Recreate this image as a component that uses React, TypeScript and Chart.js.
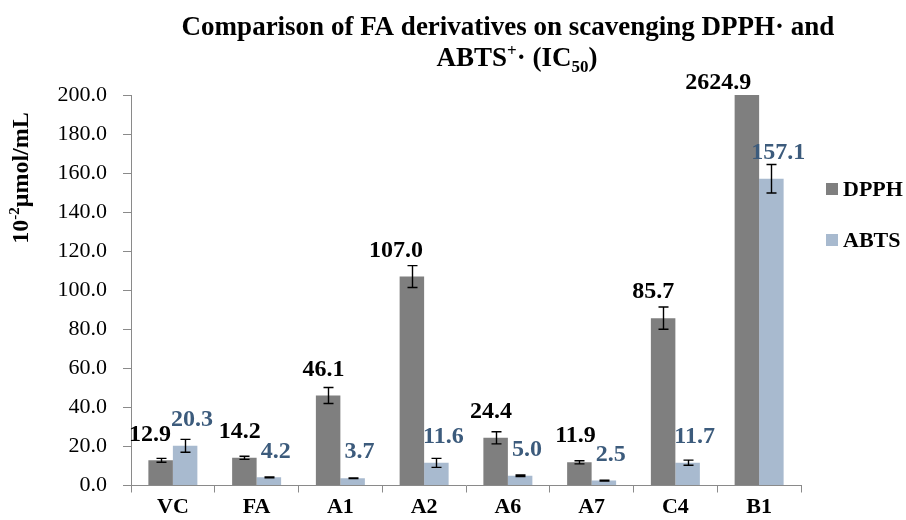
import { useEffect, useRef } from "react";
import { Chart, registerables } from "chart.js";

Chart.register(...registerables);

// IC50 values (10^-2 μmol/mL) with standard deviations
const categories = ["VC", "FA", "A1", "A2", "A6", "A7", "C4", "B1"];
const dpphValues = [12.9, 14.2, 46.1, 107.0, 24.4, 11.9, 85.7, 2624.9];
const dpphErrors = [1.0, 0.8, 4.1, 5.6, 3.1, 0.8, 5.7, 13.2];
const abtsValues = [20.3, 4.2, 3.7, 11.6, 5.0, 2.5, 11.7, 157.1];
const abtsErrors = [3.3, 0.2, 0.2, 2.3, 0.4, 0.2, 1.3, 7.3];

const seriesNames = ["DPPH", "ABTS"];
const barColors = ["#7f7f7f", "#a8bacf"];
const labelColors = ["#000000", "#3c5b7c"];

const yMin = 0;
const yMax = 200;
const yStep = 20;

const SERIF = '"Liberation Serif", "Times New Roman", serif';
const AXIS_GREY = "#8a8a8a";

type Piece = { text: string; size: number; dy: number };

function drawPieces(ctx: CanvasRenderingContext2D, pieces: Piece[], cx: number, baseline: number, weight: string) {
  const widths = pieces.map((p) => {
    ctx.font = `${weight} ${p.size}px ${SERIF}`;
    return ctx.measureText(p.text).width;
  });
  const total = widths.reduce((a, b) => a + b, 0);
  let x = cx - total / 2;
  ctx.textAlign = "left";
  ctx.textBaseline = "alphabetic";
  pieces.forEach((p, i) => {
    ctx.font = `${weight} ${p.size}px ${SERIF}`;
    ctx.fillText(p.text, x, baseline + p.dy);
    x += widths[i];
  });
}

// Title, y-axis title and legend
const decorations = {
  id: "decorations",
  afterDraw(chart: any) {
    const ctx: CanvasRenderingContext2D = chart.ctx;
    ctx.save();
    ctx.fillStyle = "#000";

    drawPieces(ctx, [{ text: "Comparison of FA derivatives on scavenging DPPH\u00b7 and", size: 27, dy: 0 }], 508, 35, "bold");
    drawPieces(
      ctx,
      [
        { text: "ABTS", size: 27, dy: 0 },
        { text: "+", size: 17, dy: -10 },
        { text: "\u00b7 (IC", size: 27, dy: 0 },
        { text: "50", size: 17, dy: 6 },
        { text: ")", size: 27, dy: 0 },
      ],
      517,
      66,
      "bold"
    );

    ctx.save();
    ctx.translate(28, 178);
    ctx.rotate(-Math.PI / 2);
    drawPieces(
      ctx,
      [
        { text: "10", size: 24, dy: 0 },
        { text: "-2", size: 15, dy: -9 },
        { text: "\u03bcmol/mL", size: 24, dy: 0 },
      ],
      0,
      0,
      "bold"
    );
    ctx.restore();

    const legendY = [189, 240];
    seriesNames.forEach((name, i) => {
      ctx.fillStyle = barColors[i];
      ctx.fillRect(826, legendY[i] - 6, 12, 12);
      ctx.fillStyle = "#000";
      ctx.font = `bold 22px ${SERIF}`;
      ctx.textAlign = "left";
      ctx.textBaseline = "middle";
      ctx.fillText(name, 843, legendY[i] + 1);
    });
    ctx.restore();
  },
};

// Error bars with caps, clipped to the plot area
const errorBars = {
  id: "errorBars",
  afterDatasetsDraw(chart: any) {
    const { ctx, chartArea } = chart;
    const yScale = chart.scales.y;
    ctx.save();
    ctx.beginPath();
    ctx.rect(chartArea.left, chartArea.top, chartArea.right - chartArea.left, chartArea.bottom - chartArea.top);
    ctx.clip();
    ctx.strokeStyle = "#000";
    ctx.lineWidth = 1.4;
    chart.data.datasets.forEach((ds: any, di: number) => {
      const meta = chart.getDatasetMeta(di);
      meta.data.forEach((bar: any, i: number) => {
        const v = ds.data[i];
        const e = ds.errors[i];
        const top = yScale.getPixelForValue(v + e);
        const bot = yScale.getPixelForValue(v - e);
        const x = Math.round(bar.x) + 0.5;
        ctx.beginPath();
        ctx.moveTo(x, top);
        ctx.lineTo(x, bot);
        ctx.moveTo(x - 5, top);
        ctx.lineTo(x + 5, top);
        ctx.moveTo(x - 5, bot);
        ctx.lineTo(x + 5, bot);
        ctx.stroke();
      });
    });
    ctx.restore();
  },
};

// Value labels above each bar; a bar running past the axis maximum gets its label at the plot top
const valueLabels = {
  id: "valueLabels",
  afterDraw(chart: any) {
    const { ctx, chartArea } = chart;
    const yScale = chart.scales.y;
    const m0 = chart.getDatasetMeta(0);
    const m1 = chart.getDatasetMeta(1);
    ctx.save();
    ctx.font = `bold 24px ${SERIF}`;
    ctx.textBaseline = "middle";
    ctx.textAlign = "center";
    categories.forEach((_, i) => {
      const texts = [dpphValues[i].toFixed(1), abtsValues[i].toFixed(1)];
      const widths = texts.map((t) => ctx.measureText(t).width);
      let x0 = m0.data[i].x;
      const x1 = m1.data[i].x + 7;
      const overlap = x0 + widths[0] / 2 - (x1 - widths[1] / 2);
      if (overlap > 0) x0 -= overlap;
      const vals = [dpphValues[i], abtsValues[i]];
      [x0, x1].forEach((x, k) => {
        const yPix = yScale.getPixelForValue(vals[k]);
        const yText = yPix < chartArea.top ? chartArea.top - 12 : yPix - 26;
        ctx.fillStyle = labelColors[k];
        ctx.fillText(texts[k], x, yText);
      });
    });
    ctx.restore();
  },
};

export default function App() {
  const canvasRef = useRef<HTMLCanvasElement | null>(null);

  useEffect(() => {
    const canvas = canvasRef.current;
    if (!canvas) return;
    const chart = new Chart(canvas, {
      type: "bar",
      data: {
        labels: categories,
        datasets: [
          {
            label: seriesNames[0],
            data: dpphValues,
            errors: dpphErrors,
            backgroundColor: barColors[0],
            categoryPercentage: 0.585,
            barPercentage: 1,
          } as any,
          {
            label: seriesNames[1],
            data: abtsValues,
            errors: abtsErrors,
            backgroundColor: barColors[1],
            categoryPercentage: 0.585,
            barPercentage: 1,
          } as any,
        ],
      },
      options: {
        responsive: false,
        maintainAspectRatio: false,
        animation: false,
        layout: { padding: { top: 95, right: 105, left: 0, bottom: 0 } },
        plugins: {
          legend: { display: false },
          title: { display: false },
          tooltip: { enabled: false },
        },
        scales: {
          x: {
            grid: { offset: true, drawOnChartArea: false, tickLength: 7, color: AXIS_GREY },
            border: { color: AXIS_GREY },
            ticks: { color: "#000", font: { family: SERIF, size: 22, weight: "bold" }, padding: 2 },
            afterFit: (s: any) => {
              s.height = 34.5;
            },
          },
          y: {
            min: yMin,
            max: yMax,
            grid: { drawOnChartArea: false, tickLength: 8, color: AXIS_GREY },
            border: { color: AXIS_GREY },
            ticks: {
              stepSize: yStep,
              color: "#000",
              font: { family: SERIF, size: 22 },
              padding: 16,
              callback: (v: any) => Number(v).toFixed(1),
            },
            afterFit: (s: any) => {
              s.width = 131;
            },
          },
        },
      },
      plugins: [errorBars, valueLabels, decorations],
    });
    return () => chart.destroy();
  }, []);

  return (
    <div style={{ position: "fixed", left: 0, top: 0, width: 906, height: 520, background: "#fff" }}>
      <canvas ref={canvasRef} width={906} height={520} style={{ display: "block" }} />
    </div>
  );
}
